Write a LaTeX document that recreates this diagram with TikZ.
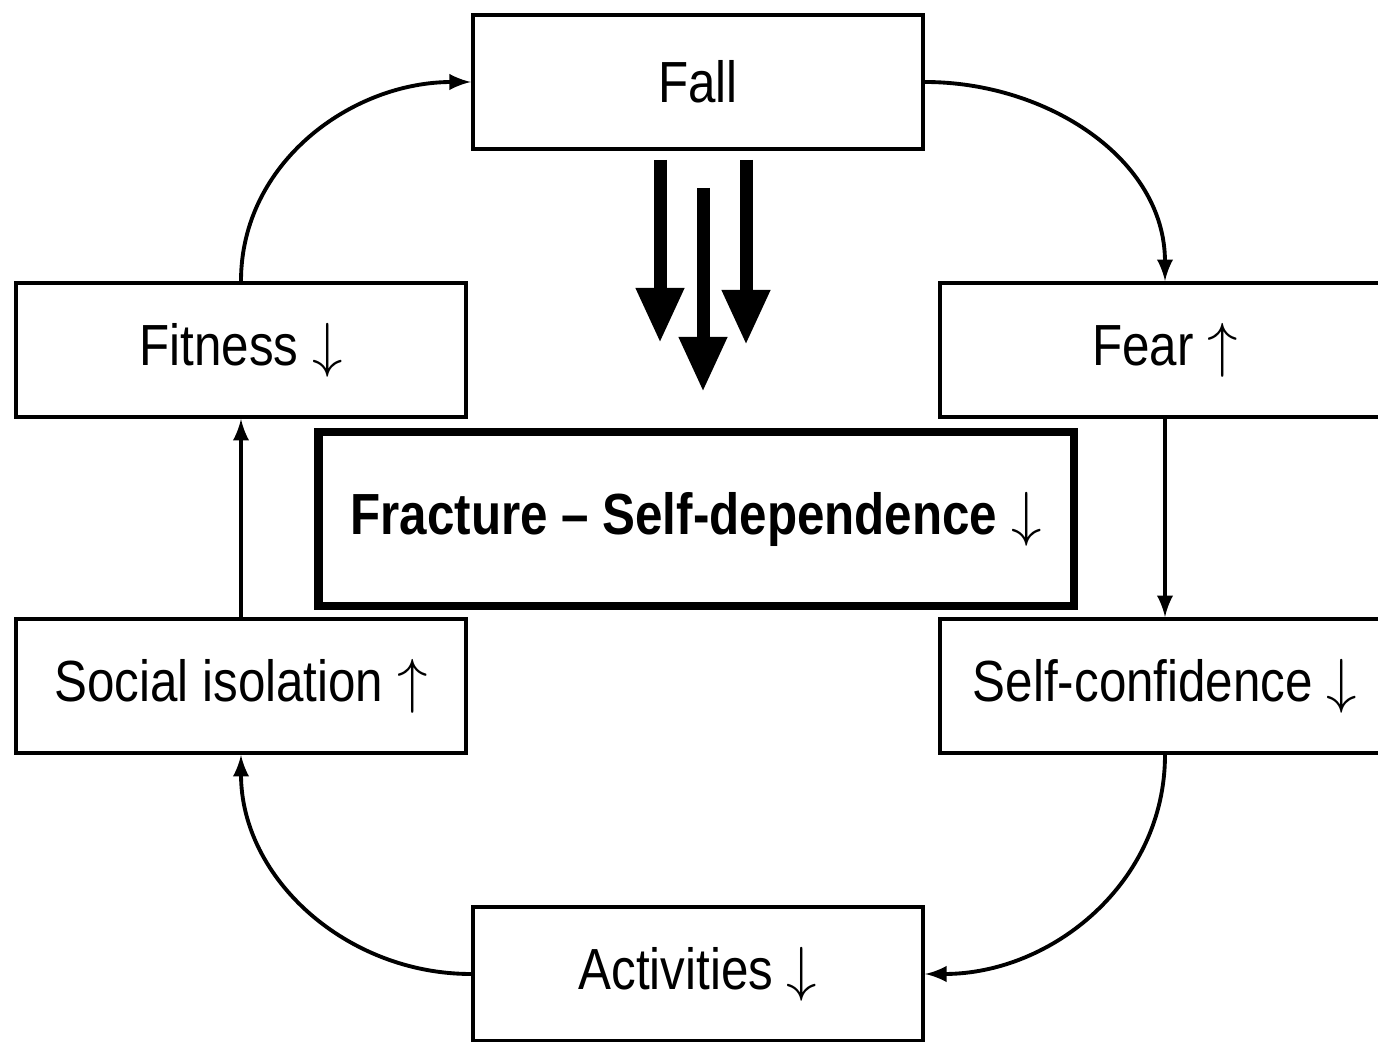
\documentclass[tikz,border=0pt]{standalone}
\usepackage{fontspec}
\setmainfont{Liberation Sans}[FakeStretch=0.85]
\usetikzlibrary{positioning, arrows.meta}

\tikzset{
  box/.style={draw, line width=1.1pt, minimum width=4.5cm, minimum height=1.34cm, inner sep=0pt, font=\fontsize{16.5}{20}\selectfont},
  centrebox/.style={box, line width=2.4pt, minimum width=7.55cm, minimum height=1.74cm, font=\fontsize{16.5}{20}\selectfont\bfseries},
  link/.style={-latex, line width=1.1pt},
  bigarrow/.style={-{Triangle[length=0.55cm,width=0.45cm]}, line width=0.13cm},
}

\begin{document}
\begin{tikzpicture}[x=0.01cm,y=0.01cm]
			\useasboundingbox (0,0) rectangle (1378,1042);
			\node[box] (fall) at (698,960) {Fall};
			\node[box] (fitness) at (241,692) {Fitness $\downarrow$};
			\node[box] (fear) at (1165,692) {Fear $\uparrow$};
			\node[centrebox] (fracture) at (696,523) {Fracture -- Self-dependence $\downarrow$};
			\node[box] (social) at (241,356) {Social isolation $\uparrow$};
			\node[box] (selfconf) at (1165,356) {Self-confidence $\downarrow$};
			\node[box] (activities) at (698,68) {Activities $\downarrow$};

			\draw[link] (fitness.north) to[out=90,in=180] (fall.west);
			\draw[link] (fall.east) to[out=0,in=90] (fear.north);
			\draw[link] (fear.south) -- (selfconf.north);
			\draw[link] (selfconf.south) to[out=-90,in=0] (activities.east);
			\draw[link] (activities.west) to[out=180,in=-90] (social.south);
			\draw[link] (social.north) -- (fitness.south);

			\coordinate (hitL) at (660,699);
			\coordinate (hitM) at (703,650);
			\coordinate (hitR) at (746,697);
			\draw[bigarrow] (660,882) -- (hitL);
			\draw[bigarrow] (703,854) -- (hitM);
			\draw[bigarrow] (746,882) -- (hitR);
		\end{tikzpicture}
\end{document}
